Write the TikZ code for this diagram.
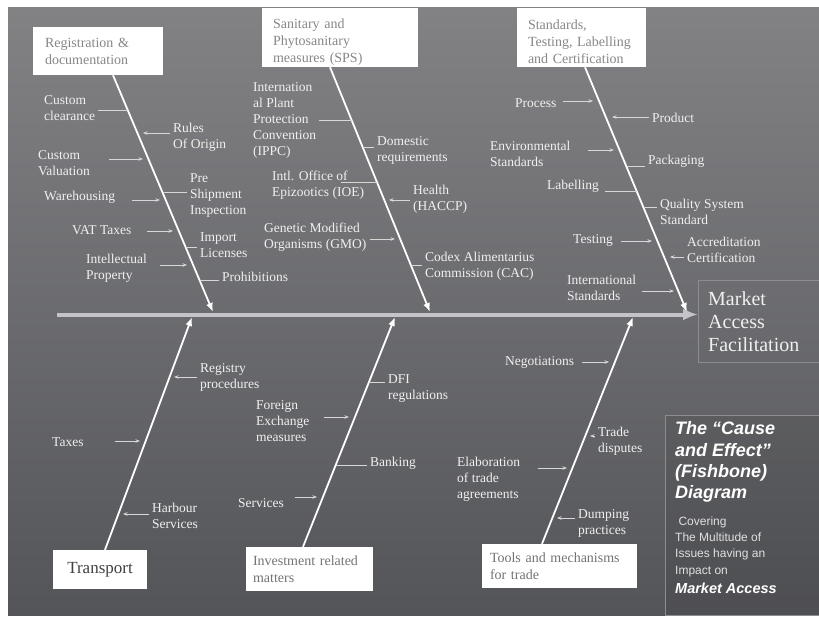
\documentclass[tikz,border=0pt]{standalone}
\usepackage{fontspec}
\setmainfont{Liberation Serif}
\newfontfamily\cefont{Liberation Sans}
\usepackage{tikz}
\usetikzlibrary{arrows.meta}
\usetikzlibrary{calc}
% Colours:
\definecolor{bgtop}{RGB}{130,130,133}
\definecolor{bgbot}{RGB}{84,85,89}
\definecolor{itemtext}{RGB}{240,240,240}
\definecolor{boxtext}{RGB}{135,135,135}
\definecolor{spinecol}{RGB}{196,196,200}
\definecolor{subcol}{RGB}{215,215,215}
\definecolor{edgecol}{RGB}{140,140,145}
% Fonts:
\newcommand{\itemfont}{\fontsize{13.5}{16}\selectfont}
\newcommand{\boxfont}{\fontsize{14}{17}\selectfont}
\newcommand{\mafont}{\fontsize{20}{23}\selectfont}
\newcommand{\cetitlefont}{\cefont\bfseries\itshape\fontsize{18}{21.3}\selectfont}
\newcommand{\cetextfont}{\cefont\fontsize{12}{16.3}\selectfont}
\newcommand{\toppad}{\rule{0pt}{19pt}}

\begin{document}
\begin{tikzpicture}[x=1pt, y=-1pt,
    causebox/.style={fill=white, text=boxtext, font=\boxfont, align=left, inner ysep=0pt},
    item/.style={anchor=west, text=itemtext, font=\itemfont, align=left, inner xsep=3pt, inner ysep=0pt},
    bone/.style={white, line width=1.8pt, -{Latex[length=9pt,width=7pt]}},
    spine/.style={spinecol, line width=4pt, -{Latex[length=15pt,width=12pt]}},
    sub/.style={subcol, line width=0.7pt, -{Stealth[length=4.5pt,width=3.5pt]}},
    subl/.style={subcol, line width=0.7pt}]
	\useasboundingbox (0,0) rectangle (819,618);
	% The frame:
	\shade[top color=bgtop, bottom color=bgbot] (8,8) rectangle (819,615);
	% Cause boxes:
	\node[causebox, minimum width=130pt, minimum height=48pt, inner xsep=12pt, text width=106pt] (reg) at (98,51) {Registration \&\\documentation};
	\node[causebox, minimum width=156pt, minimum height=59pt, inner xsep=11pt, text width=134pt] (sps) at (340,37.5) {\toppad Sanitary and\\Phytosanitary\\measures (SPS)};
	\node[causebox, minimum width=129pt, minimum height=59pt, inner xsep=11pt, text width=107pt] (std) at (581.5,37.5) {\toppad Standards,\\Testing, Labelling\\and Certification};
	\node[causebox, minimum width=94pt, minimum height=39pt, align=center, text=black!75, font=\fontsize{17}{20}\selectfont] (trn) at (100,569.5) {Transport};
	\node[causebox, minimum width=127pt, minimum height=44pt, inner xsep=7pt, text width=113pt, text=black!55] (inv) at (309.5,569) {Investment related\\matters};
	\node[causebox, minimum width=155pt, minimum height=44pt, inner xsep=8pt, text width=139pt, text=black!55] (tools) at (559.5,566) {Tools and mechanisms\\for trade};
	% The effect:
	\node[draw=edgecol, thin, anchor=north west, minimum width=121pt, minimum height=82pt, inner xsep=10pt, text width=101pt, align=left, text=itemtext, font=\mafont] (maf) at (698,280) {Market\\Access\\Facilitation};
	% Spine and bones:
	\coordinate (tail) at (57,314.5);
	\coordinate (regtip) at (213,312);
	\coordinate (spstip) at (430,312);
	\coordinate (stdtip) at (687,312);
	\coordinate (trntip) at (192,317);
	\coordinate (invtip) at (395,317);
	\coordinate (tooltip) at (633,317);
	\draw[spine] (tail) -- (maf.west |- tail);
	\draw[bone] ([xshift=15pt]reg.south) -- (regtip);
	\draw[bone] ([xshift=-10pt]sps.south) -- (spstip);
	\draw[bone] ([xshift=3.5pt]std.south) -- (stdtip);
	\draw[bone] ([xshift=5pt]trn.north) -- (trntip);
	\draw[bone] ([xshift=-6.5pt]inv.north) -- (invtip);
	\draw[bone] ([xshift=-17.5pt]tools.north) -- (tooltip);
	% Registration bone:
	\node[item] (clear)  at (41,108.5) {Custom\\clearance};
	\node[item] (origin) at (170,137.5) {Rules\\Of Origin};
	\node[item] (valu)   at (35,163.5) {Custom\\Valuation};
	\node[item] (pre)    at (187,196) {Pre\\Shipment\\Inspection};
	\node[item] (ware)   at (41,197) {Warehousing};
	\node[item] (vat)    at (69,230) {VAT Taxes};
	\node[item] (imp)    at (197,245) {Import\\Licenses};
	\node[item] (ipr)    at (83,268.5) {Intellectual\\Property};
	\node[item] (prohib) at (219,277) {Prohibitions};
	\coordinate (clearB) at (128,110);
	\coordinate (originB) at (143,133);
	\coordinate (valuB) at (143,159);
	\coordinate (preB) at (163,192);
	\coordinate (wareB) at (160,200);
	\coordinate (vatB) at (173,231);
	\coordinate (impB) at (186,247);
	\coordinate (iprB) at (187,265);
	\coordinate (prohibB) at (200,280);
	\draw[subl] (clear.east |- clearB) -- (clearB);
	\draw[sub] (origin.west |- originB) -- (originB);
	\draw[sub, shorten <=16pt] (valu.east |- valuB) -- (valuB);
	\draw[subl] (pre.west |- preB) -- (preB);
	\draw[sub, shorten <=14pt] (ware.east |- wareB) -- (wareB);
	\draw[sub, shorten <=12pt] (vat.east |- vatB) -- (vatB);
	\draw[subl] (imp.west |- impB) -- (impB);
	\draw[sub, shorten <=10pt] (ipr.east |- iprB) -- (iprB);
	\draw[subl] (prohib.west |- prohibB) -- (prohibB);
	% SPS bone:
	\node[item] (ippc)   at (250,120.5) {Internation\\al Plant\\Protection\\Convention\\(IPPC)};
	\node[item] (dom)    at (374,150) {Domestic\\requirements};
	\node[item] (ioe)    at (269,185) {Intl. Office of\\Epizootics (IOE)};
	\node[item] (health) at (410,199) {Health\\(HACCP)};
	\node[item] (gmo)    at (261,237.5) {Genetic Modified\\Organisms (GMO)};
	\node[item] (codex)  at (422,266.5) {Codex Alimentarius\\Commission (CAC)};
	\coordinate (ippcB) at (352,120);
	\coordinate (domB) at (363,147);
	\coordinate (ioeA) at (341,182);
	\coordinate (ioeB) at (377,182);
	\coordinate (healthB) at (389,200);
	\coordinate (gmoB) at (395,239);
	\coordinate (codexB) at (411,265);
	\draw[subl] (ippc.east |- ippcB) -- (ippcB);
	\draw[subl] (dom.west |- domB) -- (domB);
	\draw[subl] (ioeA) -- (ioeB);
	\draw[sub] (health.west |- healthB) -- (healthB);
	\draw[sub] (gmo.east |- gmoB) -- (gmoB);
	\draw[subl] (codex.west |- codexB) -- (codexB);
	% Standards bone:
	\node[item] (proc) at (512,103) {Process};
	\node[item] (prod) at (649,118) {Product};
	\node[item] (env)  at (487,154) {Environmental\\Standards};
	\node[item] (pack) at (645,161) {Packaging};
	\node[item] (lab)  at (544,186) {Labelling};
	\node[item] (qual) at (657,211.5) {Quality System\\Standard};
	\node[item] (test) at (570,240) {Testing};
	\node[item] (accr) at (684,250) {Accreditation\\Certification};
	\node[item] (intl) at (564,287.5) {International\\Standards};
	\coordinate (procB) at (593,101);
	\coordinate (prodB) at (612,117);
	\coordinate (envB) at (614,150);
	\coordinate (packB) at (627,166);
	\coordinate (labB) at (637,191);
	\coordinate (qualB) at (644,207);
	\coordinate (testB) at (652,241);
	\coordinate (accrB) at (670,257);
	\coordinate (intlB) at (674,291);
	\draw[sub, shorten <=3pt] (proc.east |- procB) -- (procB);
	\draw[sub] (prod.west |- prodB) -- (prodB);
	\draw[sub, shorten <=14pt] (env.east |- envB) -- (envB);
	\draw[subl] (pack.west |- packB) -- (packB);
	\draw[subl, shorten <=3pt] (lab.east |- labB) -- (labB);
	\draw[subl] (qual.west |- qualB) -- (qualB);
	\draw[sub, shorten <=5pt] (test.east |- testB) -- (testB);
	\draw[sub] (accr.west |- accrB) -- (accrB);
	\draw[sub, shorten <=3pt] (intl.east |- intlB) -- (intlB);
	% Transport bone:
	\node[item] (regp)  at (197,377.5) {Registry\\procedures};
	\node[item] (taxes) at (49,442) {Taxes};
	\node[item] (harb)  at (149,516) {Harbour\\Services};
	\coordinate (regpB) at (174,377);
	\coordinate (taxesB) at (140,441);
	\coordinate (harbB) at (123,514);
	\draw[sub] (regp.west |- regpB) -- (regpB);
	\draw[sub, shorten <=28pt] (taxes.east |- taxesB) -- (taxesB);
	\draw[sub] (harb.west |- harbB) -- (harbB);
	% Investment bone:
	\node[item] (dfi)   at (385,388.5) {DFI\\regulations};
	\node[item] (forex) at (253,421) {Foreign\\Exchange\\measures};
	\node[item] (bank)  at (367,463) {Banking};
	\node[item] (serv)  at (235,503) {Services};
	\coordinate (dfiB) at (369,382);
	\coordinate (forexB) at (349,417);
	\coordinate (bankB) at (336,465);
	\coordinate (servB) at (317,497);
	\draw[subl] (dfi.west |- dfiB) -- (dfiB);
	\draw[sub, shorten <=11pt] (forex.east |- forexB) -- (forexB);
	\draw[subl] (bank.west |- bankB) -- (bankB);
	\draw[sub, shorten <=8pt] (serv.east |- servB) -- (servB);
	% Tools bone:
	\node[item] (nego)  at (502,362) {Negotiations};
	\node[item] (trade) at (595,441) {Trade\\disputes};
	\node[item] (elab)  at (454,479) {Elaboration\\of trade\\agreements};
	\node[item] (dump)  at (575,523.5) {Dumping\\practices};
	\coordinate (negoB) at (609,362);
	\coordinate (tradeB) at (590,436);
	\coordinate (elabB) at (567,468);
	\coordinate (dumpB) at (557,518);
	\draw[sub, shorten <=5pt] (nego.east |- negoB) -- (negoB);
	\draw[sub] (trade.west |- tradeB) -- (tradeB);
	\draw[sub, shorten <=15pt] (elab.east |- elabB) -- (elabB);
	\draw[sub] (dump.west |- dumpB) -- (dumpB);
	% Legend:
	\draw[edgecol, fill=black, fill opacity=0.07] (665,415) rectangle (819,615);
	\node[anchor=west, inner sep=0pt, align=left, text=white, font=\cetitlefont] (cetitle) at (675,462) {The “Cause\\and Effect”\\(Fishbone)\\Diagram};
	\node[anchor=west, inner sep=0pt, align=left, text=black!12, font=\cetextfont] (cetext) at (675,546.5) {\ Covering\\The Multitude of\\Issues having an\\Impact on};
	\node[anchor=west, inner sep=0pt, text=white, font=\cefont\bfseries\itshape\fontsize{14.5}{17}\selectfont] (cemarket) at (675,588) {Market Access};
\end{tikzpicture}
\end{document}
